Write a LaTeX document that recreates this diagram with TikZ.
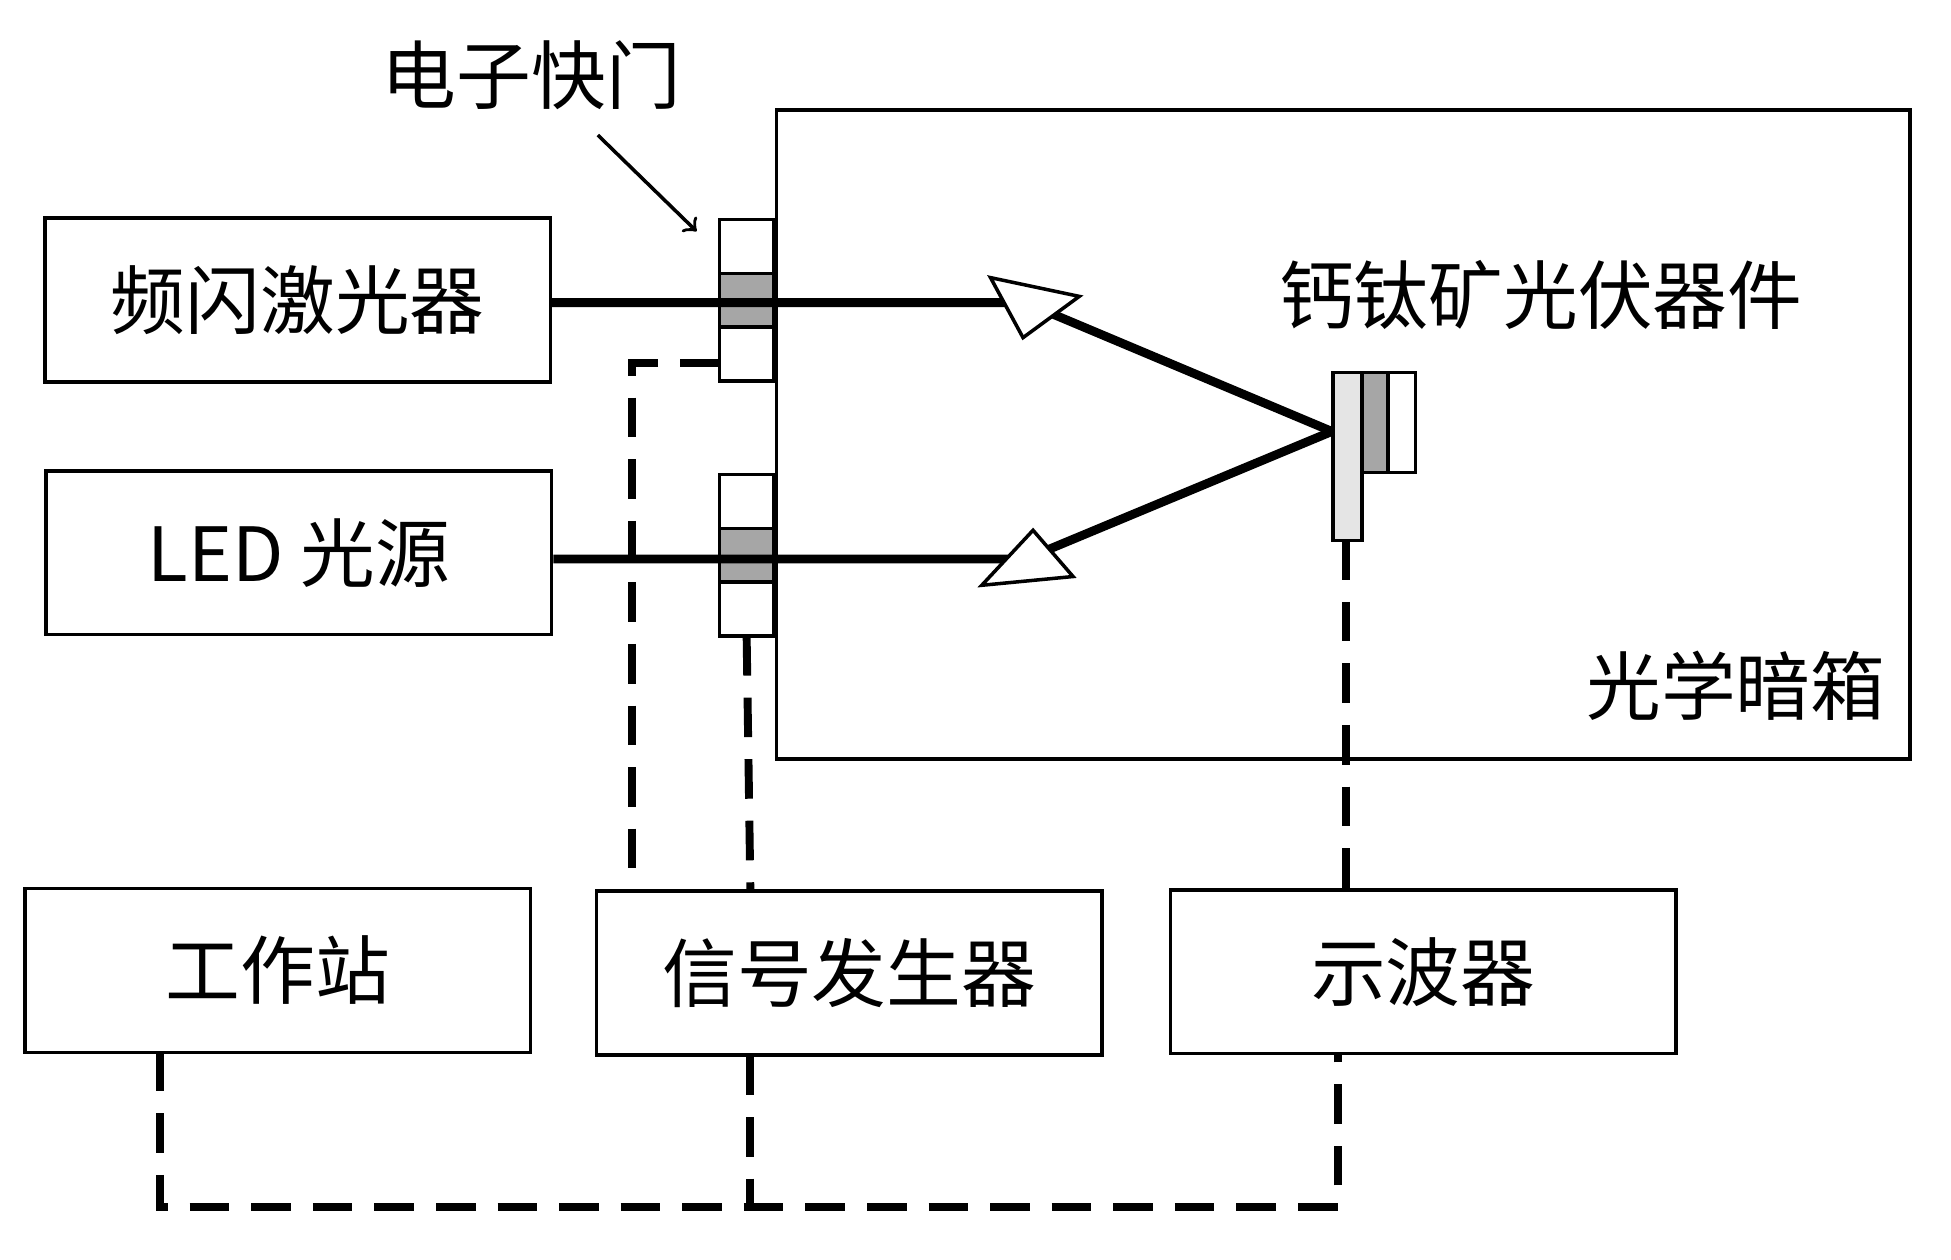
\documentclass[tikz,border=0pt]{standalone}
\usepackage{fontspec}
\newfontfamily\cjk{Noto Sans CJK SC}
\usetikzlibrary{positioning}
\tikzset{
  box/.style={draw,thick,minimum width=4.04cm,minimum height=1.31cm,font=\cjk\fontsize{17}{20}\selectfont},
  cell/.style={draw,thick,minimum width=0.43cm,minimum height=0.43cm,inner sep=0pt,outer sep=0pt},
  beam/.style={line width=2pt},
  wire/.style={line width=1.8pt,dash pattern=on 9pt off 5pt},
  lbl/.style={font=\cjk\fontsize{17}{20}\selectfont}
}
\begin{document}
\begin{tikzpicture}[x=0.01cm,y=-0.01cm]
\useasboundingbox (0,0) rectangle (1560,1007);
% main boxes
\node[box] (laser) at (238,240) {频闪激光器};
\node[box] (led) at (239,442) {LED 光源};
\node[box] (ws) at (222,776) {工作站};
\node[box] (sg) at (679,778) {信号发生器};
\node[box] (osc) at (1138,777) {示波器};
\draw[thick] (621,88) rectangle (1527,607);
\node[lbl] (dark) at (1388,548) {光学暗箱};
% shutters
\node[cell] (s1a) at (597,197) {};
\node[cell,fill=gray!70,below=0pt of s1a] (s1b) {};
\node[cell,below=0pt of s1b] (s1c) {};
\node[cell] (s2a) at (597,401) {};
\node[cell,fill=gray!70,below=0pt of s2a] (s2b) {};
\node[cell,below=0pt of s2b] (s2c) {};
\node[lbl] (shut) at (425,60) {电子快门};
\draw[thick,->] (478,108) -- (557,185);
% device
\draw[thick,fill=gray!20] (1066,298) rectangle (1089,432);
\draw[thick,fill=gray!70] (1089,298) rectangle (1110,378);
\draw[thick] (1110,298) rectangle (1132,378);
\coordinate (dev) at (1065,345);
\coordinate (devb) at (1076,432);
\node[lbl] (devl) at (1232,236) {钙钛矿光伏器件};
% beams
\draw[beam] (laser.east |- 0,242) -- (820,242) -- (dev);
\draw[beam] (led.east |- 0,447) -- (820,447) -- (dev);
\draw[thick,fill=white] (792,222) -- (863,237) -- (818,270) -- cycle;
\draw[thick,fill=white] (826,424) -- (858,461) -- (785,468) -- cycle;
% wiring
\draw[wire] (s1c.west |- 0,290) -| (505,712);
\draw[wire] (s2c.south) -- (600,712);
\draw[wire] (devb) -- (1076,711);
\draw[wire] (128,841) |- (1070,965) -- (1070,843);
\draw[wire] (600,844) -- (600,965);
\end{tikzpicture}
\end{document}
